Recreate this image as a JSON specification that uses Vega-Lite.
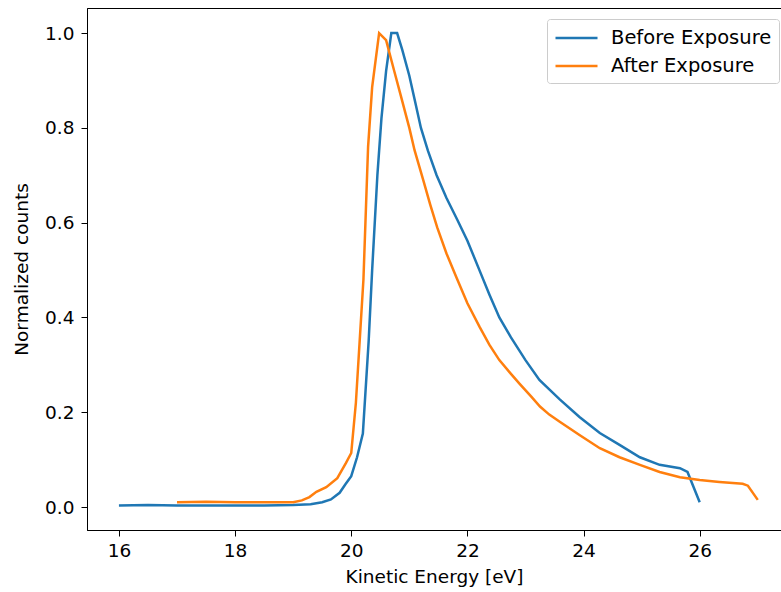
{
  "$schema": "https://vega.github.io/schema/vega-lite/v6.json",
  "autosize": "none",
  "width": 694,
  "height": 522,
  "padding": {"left": 87, "top": 8, "right": 0, "bottom": 62},
  "background": "white",
  "config": {
    "font": "DejaVu Sans",
    "view": {"stroke": "black", "strokeWidth": 1},
    "axis": {
      "grid": false,
      "domainColor": "black",
      "tickColor": "black",
      "labelColor": "black",
      "titleColor": "black",
      "labelFont": "DejaVu Sans",
      "titleFont": "DejaVu Sans",
      "labelFontSize": 18.5,
      "titleFontSize": 18.5,
      "titleFontWeight": "normal",
      "tickSize": 6,
      "domainWidth": 1,
      "tickWidth": 1
    }
  },
  "data": {
    "values": [
      {"energy": 16.0, "counts": 0.003, "series": "Before Exposure"},
      {"energy": 16.5, "counts": 0.004, "series": "Before Exposure"},
      {"energy": 17.0, "counts": 0.003, "series": "Before Exposure"},
      {"energy": 17.5, "counts": 0.003, "series": "Before Exposure"},
      {"energy": 18.0, "counts": 0.003, "series": "Before Exposure"},
      {"energy": 18.5, "counts": 0.003, "series": "Before Exposure"},
      {"energy": 19.0, "counts": 0.004, "series": "Before Exposure"},
      {"energy": 19.3, "counts": 0.006, "series": "Before Exposure"},
      {"energy": 19.5, "counts": 0.010, "series": "Before Exposure"},
      {"energy": 19.65, "counts": 0.016, "series": "Before Exposure"},
      {"energy": 19.8, "counts": 0.030, "series": "Before Exposure"},
      {"energy": 19.9, "counts": 0.048, "series": "Before Exposure"},
      {"energy": 20.0, "counts": 0.065, "series": "Before Exposure"},
      {"energy": 20.1, "counts": 0.105, "series": "Before Exposure"},
      {"energy": 20.2, "counts": 0.155, "series": "Before Exposure"},
      {"energy": 20.3, "counts": 0.35, "series": "Before Exposure"},
      {"energy": 20.36, "counts": 0.50, "series": "Before Exposure"},
      {"energy": 20.45, "counts": 0.70, "series": "Before Exposure"},
      {"energy": 20.52, "counts": 0.82, "series": "Before Exposure"},
      {"energy": 20.6, "counts": 0.92, "series": "Before Exposure"},
      {"energy": 20.69, "counts": 1.0, "series": "Before Exposure"},
      {"energy": 20.79, "counts": 1.0, "series": "Before Exposure"},
      {"energy": 20.88, "counts": 0.964, "series": "Before Exposure"},
      {"energy": 21.0, "counts": 0.91, "series": "Before Exposure"},
      {"energy": 21.1, "counts": 0.855, "series": "Before Exposure"},
      {"energy": 21.2, "counts": 0.80, "series": "Before Exposure"},
      {"energy": 21.32, "counts": 0.752, "series": "Before Exposure"},
      {"energy": 21.47, "counts": 0.70, "series": "Before Exposure"},
      {"energy": 21.64, "counts": 0.652, "series": "Before Exposure"},
      {"energy": 21.83, "counts": 0.605, "series": "Before Exposure"},
      {"energy": 22.0, "counts": 0.562, "series": "Before Exposure"},
      {"energy": 22.2, "counts": 0.502, "series": "Before Exposure"},
      {"energy": 22.38, "counts": 0.448, "series": "Before Exposure"},
      {"energy": 22.55, "counts": 0.40, "series": "Before Exposure"},
      {"energy": 22.75, "counts": 0.358, "series": "Before Exposure"},
      {"energy": 23.0, "counts": 0.31, "series": "Before Exposure"},
      {"energy": 23.24, "counts": 0.268, "series": "Before Exposure"},
      {"energy": 23.59, "counts": 0.227, "series": "Before Exposure"},
      {"energy": 23.93, "counts": 0.19, "series": "Before Exposure"},
      {"energy": 24.28, "counts": 0.156, "series": "Before Exposure"},
      {"energy": 24.62, "counts": 0.131, "series": "Before Exposure"},
      {"energy": 24.97, "counts": 0.105, "series": "Before Exposure"},
      {"energy": 25.31, "counts": 0.089, "series": "Before Exposure"},
      {"energy": 25.66, "counts": 0.082, "series": "Before Exposure"},
      {"energy": 25.79, "counts": 0.074, "series": "Before Exposure"},
      {"energy": 26.0, "counts": 0.01, "series": "Before Exposure"},
      {"energy": 17.0, "counts": 0.010, "series": "After Exposure"},
      {"energy": 17.5, "counts": 0.011, "series": "After Exposure"},
      {"energy": 18.0, "counts": 0.010, "series": "After Exposure"},
      {"energy": 18.5, "counts": 0.010, "series": "After Exposure"},
      {"energy": 19.0, "counts": 0.010, "series": "After Exposure"},
      {"energy": 19.15, "counts": 0.014, "series": "After Exposure"},
      {"energy": 19.28, "counts": 0.021, "series": "After Exposure"},
      {"energy": 19.4, "counts": 0.032, "series": "After Exposure"},
      {"energy": 19.57, "counts": 0.042, "series": "After Exposure"},
      {"energy": 19.76, "counts": 0.061, "series": "After Exposure"},
      {"energy": 19.91, "counts": 0.093, "series": "After Exposure"},
      {"energy": 20.0, "counts": 0.114, "series": "After Exposure"},
      {"energy": 20.08, "counts": 0.22, "series": "After Exposure"},
      {"energy": 20.15, "counts": 0.36, "series": "After Exposure"},
      {"energy": 20.21, "counts": 0.48, "series": "After Exposure"},
      {"energy": 20.29, "counts": 0.76, "series": "After Exposure"},
      {"energy": 20.36, "counts": 0.886, "series": "After Exposure"},
      {"energy": 20.48, "counts": 1.0, "series": "After Exposure"},
      {"energy": 20.6, "counts": 0.985, "series": "After Exposure"},
      {"energy": 20.74, "counts": 0.92, "series": "After Exposure"},
      {"energy": 20.86, "counts": 0.865, "series": "After Exposure"},
      {"energy": 21.0, "counts": 0.80, "series": "After Exposure"},
      {"energy": 21.09, "counts": 0.753, "series": "After Exposure"},
      {"energy": 21.24, "counts": 0.69, "series": "After Exposure"},
      {"energy": 21.36, "counts": 0.638, "series": "After Exposure"},
      {"energy": 21.48, "counts": 0.59, "series": "After Exposure"},
      {"energy": 21.64, "counts": 0.535, "series": "After Exposure"},
      {"energy": 21.81, "counts": 0.485, "series": "After Exposure"},
      {"energy": 22.0, "counts": 0.43, "series": "After Exposure"},
      {"energy": 22.21, "counts": 0.38, "series": "After Exposure"},
      {"energy": 22.38, "counts": 0.342, "series": "After Exposure"},
      {"energy": 22.55, "counts": 0.31, "series": "After Exposure"},
      {"energy": 22.75, "counts": 0.281, "series": "After Exposure"},
      {"energy": 22.9, "counts": 0.26, "series": "After Exposure"},
      {"energy": 23.1, "counts": 0.233, "series": "After Exposure"},
      {"energy": 23.25, "counts": 0.212, "series": "After Exposure"},
      {"energy": 23.41, "counts": 0.195, "series": "After Exposure"},
      {"energy": 23.59, "counts": 0.18, "series": "After Exposure"},
      {"energy": 23.93, "counts": 0.152, "series": "After Exposure"},
      {"energy": 24.28, "counts": 0.124, "series": "After Exposure"},
      {"energy": 24.62, "counts": 0.105, "series": "After Exposure"},
      {"energy": 24.97, "counts": 0.089, "series": "After Exposure"},
      {"energy": 25.31, "counts": 0.074, "series": "After Exposure"},
      {"energy": 25.66, "counts": 0.063, "series": "After Exposure"},
      {"energy": 26.0, "counts": 0.057, "series": "After Exposure"},
      {"energy": 26.34, "counts": 0.053, "series": "After Exposure"},
      {"energy": 26.74, "counts": 0.049, "series": "After Exposure"},
      {"energy": 26.83, "counts": 0.045, "series": "After Exposure"},
      {"energy": 27.0, "counts": 0.015, "series": "After Exposure"}
    ]
  },
  "mark": {"type": "line", "strokeWidth": 2.5, "clip": true},
  "encoding": {
    "x": {
      "field": "energy",
      "type": "quantitative",
      "scale": {"domain": [15.45, 27.4], "nice": false, "zero": false},
      "axis": {"title": "Kinetic Energy [eV]", "values": [16, 18, 20, 22, 24, 26], "format": "d", "labelPadding": 5, "titlePadding": 8}
    },
    "y": {
      "field": "counts",
      "type": "quantitative",
      "scale": {"domain": [-0.0485, 1.053], "nice": false, "zero": false},
      "axis": {"title": "Normalized counts", "values": [0, 0.2, 0.4, 0.6, 0.8, 1.0], "format": ".1f", "labelPadding": 7, "titlePadding": 13}
    },
    "color": {
      "field": "series",
      "type": "nominal",
      "sort": ["Before Exposure", "After Exposure"],
      "scale": {"domain": ["Before Exposure", "After Exposure"], "range": ["#1f77b4", "#ff7f0e"]},
      "legend": {
        "title": null,
        "orient": "none",
        "legendX": 460,
        "legendY": 11,
        "symbolType": "M-1,0H3",
        "symbolSize": 441,
        "symbolStrokeWidth": 2.5,
        "labelFontSize": 19.5,
        "labelLimit": 400,
        "labelFont": "DejaVu Sans",
        "labelColor": "black",
        "labelOffset": 33,
        "strokeColor": "#cccccc",
        "fillColor": "white",
        "cornerRadius": 3,
        "padding": 7,
        "rowPadding": 6
      }
    }
  }
}
